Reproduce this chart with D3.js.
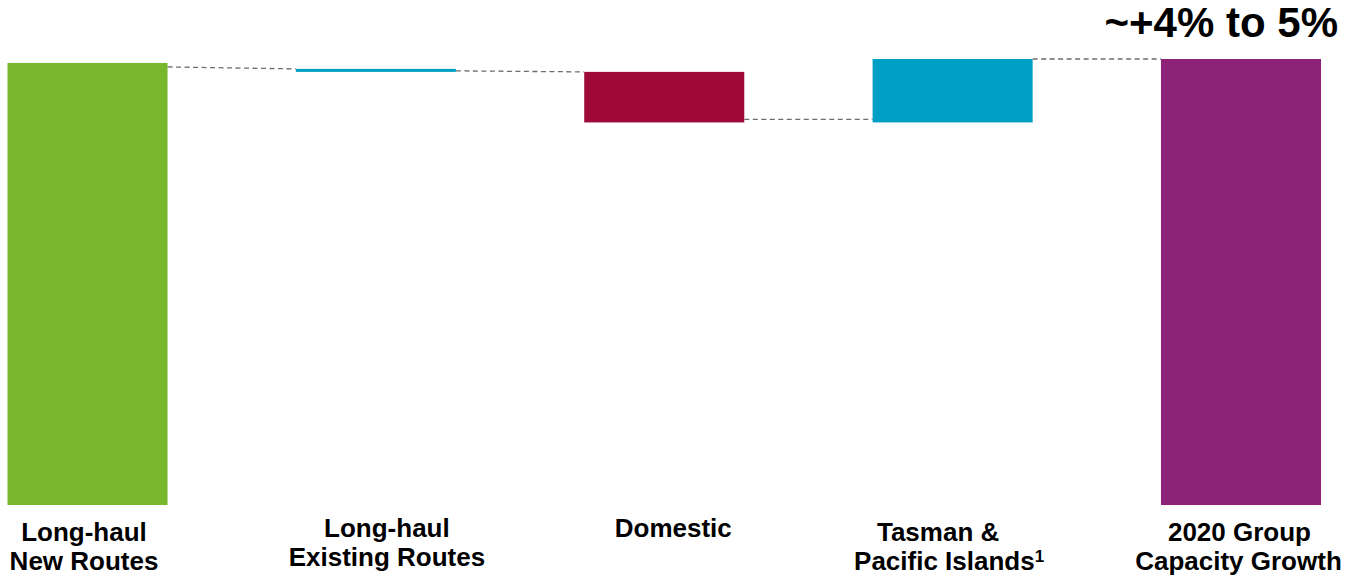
<!DOCTYPE html>
<html>
<head>
<meta charset="utf-8">
<script src="https://cdn.jsdelivr.net/npm/d3@7"></script>
<style>
  html, body { margin: 0; padding: 0; background: #ffffff; }
  svg { display: block; }
  text { font-family: "Liberation Sans", Arial, sans-serif; font-weight: bold; fill: #000; }
</style>
</head>
<body>
<svg id="chart" width="1345" height="576"></svg>
<script>
// Capacity growth bridge, values in % points
const categories = ["longNew", "longExisting", "domestic", "tasman", "group"];
const labelLines = [
  ["Long-haul", "New Routes"],
  ["Long-haul", "Existing Routes"],
  ["Domestic"],
  ["Tasman &", "Pacific Islands"],
  ["2020 Group", "Capacity Growth"]
];
const footnoteMarks = ["", "", "", "1", ""];
const barStart = [0, 4.40, 4.37, 3.86, 0];
const barEnd   = [4.46, 4.37, 3.86, 4.50, 4.50];
const connectorFrom = [4.42, 4.38, 3.89, 4.50];
const connectorTo   = [4.40, 4.37, 3.89, 4.50];
const barColors = ["#79b72c", "#00a0c4", "#9e0938", "#00a0c4", "#8c2379"];
const headline = "~+4% to 5%";

const svg = d3.select("#chart");

const x = d3.scaleBand()
  .domain(categories)
  .range([7.5, 1321])
  .paddingInner(0.445)
  .paddingOuter(0);

const y = d3.scaleLinear()
  .domain([0, 4.5])
  .range([505, 59]);

// bars
svg.append("g")
  .selectAll("rect")
  .data(categories)
  .join("rect")
  .attr("x", d => x(d))
  .attr("width", x.bandwidth())
  .attr("y", (d, i) => y(Math.max(barStart[i], barEnd[i])))
  .attr("height", (d, i) => Math.abs(y(barStart[i]) - y(barEnd[i])))
  .attr("fill", (d, i) => barColors[i]);

// dashed connectors between consecutive bars
svg.append("g")
  .selectAll("line")
  .data(connectorFrom)
  .join("line")
  .attr("x1", (d, i) => x(categories[i]) + x.bandwidth())
  .attr("x2", (d, i) => x(categories[i + 1]))
  .attr("y1", d => y(d))
  .attr("y2", (d, i) => y(connectorTo[i]))
  .attr("stroke", "#6e6e6e")
  .attr("stroke-width", 1.3)
  .attr("stroke-dasharray", "5,3.5");

// category labels below the bars
const lineDx = [[-3.5, -3.5], [11, 11], [9], [-14.5, -3.5], [-1.5, -2.5]];
const firstBaseline = [541, 537, 537, 541, 541];
const lineGap = 29;

const labels = svg.append("g")
  .selectAll("text")
  .data(categories)
  .join("text")
  .attr("text-anchor", "middle")
  .style("font-size", "26px");

labels.each(function (d, i) {
  const t = d3.select(this);
  const cx = x(d) + x.bandwidth() / 2;
  labelLines[i].forEach((line, j) => {
    t.append("tspan")
      .attr("x", cx + lineDx[i][j])
      .attr("y", firstBaseline[i] + j * lineGap)
      .text(line);
  });
  if (footnoteMarks[i]) {
    t.append("tspan")
      .attr("dy", -8)
      .style("font-size", "17px")
      .text(footnoteMarks[i]);
  }
});

// headline above the final bar
svg.append("text")
  .attr("x", 1338)
  .attr("y", 37)
  .attr("text-anchor", "end")
  .style("font-size", "42px")
  .text(headline);
</script>
</body>
</html>
